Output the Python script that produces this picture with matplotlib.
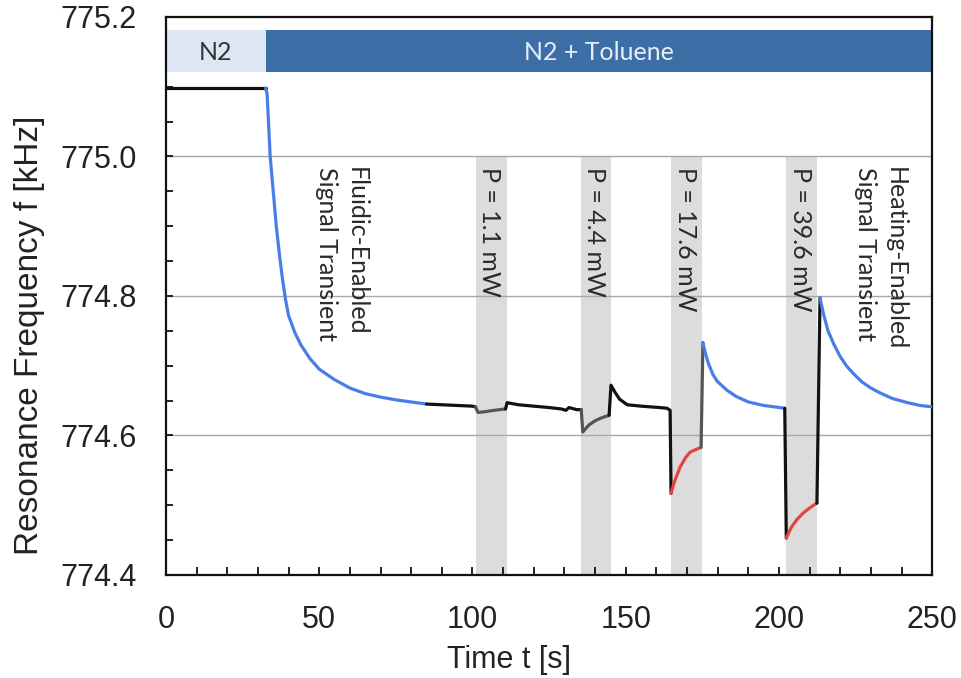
import matplotlib
matplotlib.use("Agg")
import matplotlib.pyplot as plt
from matplotlib.ticker import MultipleLocator, FormatStrFormatter

# ---------------- data ----------------
# gas phases (top bar)
phase_labels = ["N2", "N2 + Toluene"]
phase_start = [0, 32.5]
phase_end = [32.5, 250]

# heating pulses (gray bands)
pulse_labels = ["P = 1.1 mW", "P = 4.4 mW", "P = 17.6 mW", "P = 39.6 mW"]
pulse_start = [101.0, 135.5, 164.8, 202.4]
pulse_end = [111.2, 145.3, 175.0, 212.5]

# signal segments
t_n2 = [0, 32.5]
f_n2 = [775.098, 775.098]

t_fluidic = [32.5, 33, 34, 35, 36, 37, 38, 39, 40, 42, 44, 47, 50, 55, 60, 65, 70, 75, 80, 85]
f_fluidic = [775.098, 775.09, 775.0, 774.95, 774.9, 774.86, 774.825, 774.795, 774.772, 774.748,
             774.73, 774.71, 774.695, 774.68, 774.668, 774.66, 774.655, 774.651, 774.648, 774.645]

t_base1 = [85, 90, 95, 100, 101.0]
f_base1 = [774.645, 774.644, 774.643, 774.642, 774.641]

t_p1 = [101.0, 101.8, 104, 107, 110.8]
f_p1 = [774.641, 774.633, 774.634, 774.636, 774.638]

t_base2 = [110.8, 111.3, 115, 120, 125, 129, 130.5, 131.5, 134, 135.5]
f_base2 = [774.638, 774.647, 774.644, 774.642, 774.640, 774.638, 774.636, 774.640, 774.637, 774.637]

t_p2 = [135.5, 136.0, 138, 140, 142, 144.6]
f_p2 = [774.637, 774.605, 774.615, 774.621, 774.625, 774.629]

t_base3 = [144.6, 145.2, 146.5, 148, 150.5, 155, 158, 161, 163.5, 164.5, 164.8]
f_base3 = [774.629, 774.672, 774.662, 774.652, 774.644, 774.642, 774.641, 774.640, 774.639, 774.636, 774.517]

t_p3 = [164.8, 166, 167.8, 169.5, 171, 172.5, 174.6]
f_p3 = [774.517, 774.535, 774.555, 774.568, 774.576, 774.579, 774.583]

t_jump3 = [174.6, 175.2]
f_jump3 = [774.583, 774.733]

t_heat1 = [175.2, 176, 177, 178.5, 180, 183, 186, 190, 195, 201.9]
f_heat1 = [774.733, 774.718, 774.703, 774.687, 774.677, 774.665, 774.656, 774.648, 774.643, 774.639]

t_drop4 = [201.9, 202.4]
f_drop4 = [774.639, 774.453]

t_p4 = [202.4, 204, 205.8, 207.5, 209.1, 211, 212.4]
f_p4 = [774.453, 774.468, 774.479, 774.487, 774.493, 774.499, 774.503]

t_jump4 = [212.4, 213.4]
f_jump4 = [774.503, 774.797]

t_heat2 = [213.4, 214.5, 216, 218, 220, 222, 224, 227, 230, 233, 237, 242, 246, 250]
f_heat2 = [774.797, 774.775, 774.75, 774.73, 774.713, 774.70, 774.69, 774.677, 774.668,
           774.661, 774.653, 774.647, 774.643, 774.641]

# transient annotation positions (time axis)
transient_labels = ["Fluidic-Enabled\nSignal Transient", "Heating-Enabled\nSignal Transient"]
transient_t = [57.3, 233.2]

# ---------------- styling ----------------
BLACK = "#111111"
BLUE = "#4a7ee6"
RED = "#e0453f"
DGRAY = "#555555"

segments = [
    (t_n2, f_n2, BLACK),
    (t_fluidic, f_fluidic, BLUE),
    (t_base1, f_base1, BLACK),
    (t_p1, f_p1, DGRAY),
    (t_base2, f_base2, BLACK),
    (t_p2, f_p2, DGRAY),
    (t_base3, f_base3, BLACK),
    (t_p3, f_p3, RED),
    (t_jump3, f_jump3, DGRAY),
    (t_heat1, f_heat1, BLUE),
    (t_drop4, f_drop4, BLACK),
    (t_p4, f_p4, RED),
    (t_jump4, f_jump4, BLACK),
    (t_heat2, f_heat2, BLUE),
]

fig = plt.figure(figsize=(9.61, 6.78), dpi=100)
ax = fig.add_axes([0.1727, 0.152, 0.7973, 0.823])

ax.set_xlim(0, 250)
ax.set_ylim(774.4, 775.2)

# gridlines
for yv in [774.6, 774.8, 775.0]:
    ax.axhline(yv, color="#a8a8a8", lw=1.0, zorder=1)

# gray bands
for s, e in zip(pulse_start, pulse_end):
    ax.fill_between([s, e], 774.4, 775.0, color="#dcdcdc", lw=0, zorder=0.5)

# top phase bar
bar_colors = ["#dde7f3", "#3d6ea6"]
txt_colors = ["#333333", "#e6eef8"]
for lab, s, e, bc, tc in zip(phase_labels, phase_start, phase_end, bar_colors, txt_colors):
    ax.barh(775.151, e - s, left=s, height=0.06, color=bc, lw=0, zorder=2)
    ax.text((s + e) / 2, 775.149, lab, ha="center", va="center", color=tc,
            fontsize=18, family="Lato", zorder=3)

# signal
for t, f, c in segments:
    ax.plot(t, f, color=c, lw=2.3, solid_capstyle="round", solid_joinstyle="round", zorder=4)

# annotations (rotated, reading top to bottom)
ann_font = dict(family="Lato", fontsize=18, color="#2a2a2a", rotation=270,
                ha="left", va="center", zorder=5, rotation_mode="anchor", linespacing=1.35)
for lab, s, e in zip(pulse_labels, pulse_start, pulse_end):
    ax.text((s + e) / 2 - 0.5, 774.985, lab, **ann_font)
for lab, tt in zip(transient_labels, transient_t):
    ax.text(tt, 774.985, lab, **ann_font)

# axes styling
for sp in ax.spines.values():
    sp.set_linewidth(1.6)
    sp.set_color("#111111")

ax.xaxis.set_major_locator(MultipleLocator(50))
ax.xaxis.set_minor_locator(MultipleLocator(10))
ax.yaxis.set_major_locator(MultipleLocator(0.2))
ax.yaxis.set_minor_locator(MultipleLocator(0.05))
ax.yaxis.set_major_formatter(FormatStrFormatter("%.1f"))
ax.tick_params(axis="both", which="both", direction="in", width=1.3, color="#111111")
ax.tick_params(axis="x", which="both", length=6, pad=22, labelsize=22)
ax.tick_params(axis="y", which="both", length=5, pad=21, labelsize=22)
for lbl in ax.get_xticklabels() + ax.get_yticklabels():
    lbl.set_family("Liberation Sans")
    lbl.set_color("#222222")

ax.set_xlabel("Time t [s]", family="Liberation Sans", fontsize=22, color="#222222")
ax.set_ylabel("Resonance Frequency f [kHz]", family="Liberation Sans", fontsize=24,
              color="#222222")
ax.xaxis.set_label_coords(0.448, -0.153)
ax.yaxis.set_label_coords(-0.178, 0.43)
ax.xaxis.label.set_va("center")
ax.yaxis.label.set_va("center")

fig.savefig("out.png", dpi=100)
